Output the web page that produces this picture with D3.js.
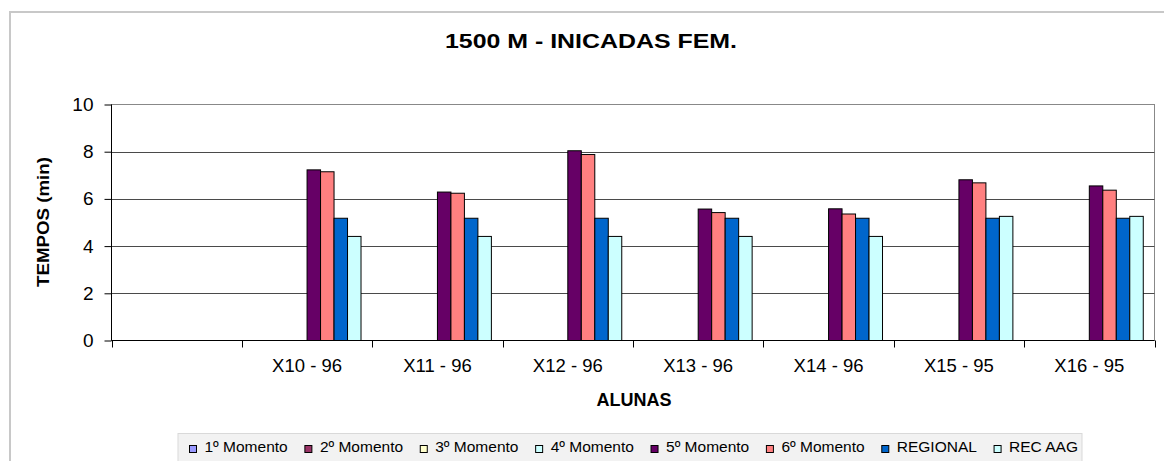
<!DOCTYPE html>
<html><head><meta charset="utf-8">
<script src="https://cdn.jsdelivr.net/npm/d3@7"></script>
<style>body{margin:0;background:#fff}svg{display:block}text{font-family:"Liberation Sans",Arial,sans-serif}</style>
</head><body>
<svg id="c" width="1164" height="461"></svg>
<script>
const categories = ["", "X10 - 96", "X11 - 96", "X12 - 96", "X13 - 96", "X14 - 96", "X15 - 95", "X16 - 95"];
const seriesNames = ["1º Momento","2º Momento","3º Momento","4º Momento","5º Momento","6º Momento","REGIONAL","REC AAG"];
const seriesColors = ["#9999FF","#993366","#FFFFCC","#CCFFFF","#660066","#FF8080","#0066CC","#CCFFFF"];
const m1 = [null,null,null,null,null,null,null,null];
const m2 = [null,null,null,null,null,null,null,null];
const m3 = [null,null,null,null,null,null,null,null];
const m4 = [null,null,null,null,null,null,null,null];
const m5 = [null, 7.23, 6.29, 8.04, 5.57, 5.58, 6.81, 6.55];
const m6 = [null, 7.15, 6.24, 7.88, 5.42, 5.36, 6.68, 6.37];
const regional = [null, 5.18, 5.18, 5.18, 5.18, 5.18, 5.18, 5.18];
const recAAG = [null, 4.41, 4.41, 4.41, 4.41, 4.41, 5.26, 5.26];
const yTicks = [0,2,4,6,8,10];
const title = "1500 M - INICADAS FEM.";
const yTitle = "TEMPOS (min)";
const xTitle = "ALUNAS";

const seriesValues = [m1,m2,m3,m4,m5,m6,regional,recAAG];
const svg = d3.select("#c");
const F = '"Liberation Sans",Arial,sans-serif';

// outer chart border
svg.append("rect").attr("x",10).attr("y",12).attr("width",1170).attr("height",470)
  .attr("fill","#fff").attr("stroke","#c8c8c8").attr("stroke-width",2);

const L = 111.5, R = 1154.5, T = 104.5, B = 340.5;
const x = d3.scaleBand().domain(categories.map((d,i)=>i)).range([L,R]).paddingInner(0).paddingOuter(0);
const gap = 0.0862;
const xs = d3.scaleBand().domain(seriesNames).range([x.bandwidth()*gap, x.bandwidth()*(1-gap)]);
const y = d3.scaleLinear().domain([0,10]).range([B,T]);

// plot area
svg.append("rect").attr("x",L).attr("y",T).attr("width",R-L).attr("height",B-T)
  .attr("fill","#fff").attr("stroke","#888").attr("stroke-width",1);

// gridlines
svg.append("g").selectAll("line").data(yTicks.filter(t=>t>0 && t<10)).join("line")
  .attr("x1",L).attr("x2",R).attr("y1",d=>Math.round(y(d))+0.5).attr("y2",d=>Math.round(y(d))+0.5)
  .attr("stroke","#4a4a4a").attr("stroke-width",1);

// bars
const gBars = svg.append("g");
seriesNames.forEach((s,si)=>{
  gBars.selectAll(null).data(seriesValues[si].map((v,i)=>({v,i})).filter(d=>d.v!=null)).join("rect")
    .attr("x",d=>x(d.i)+xs(s))
    .attr("y",d=>y(d.v))
    .attr("width",xs.bandwidth())
    .attr("height",d=>B-y(d.v))
    .attr("fill",seriesColors[si]).attr("stroke","#000").attr("stroke-width",1);
});

// y axis
const yAxis = d3.axisLeft(y).tickValues(yTicks).tickSize(7).tickPadding(11).tickFormat(d3.format("d"));
const ya = svg.append("g").attr("transform",`translate(${L},0)`).call(yAxis);
ya.select(".domain").attr("stroke","#000").attr("d",`M0,${T}V${B}`);
ya.selectAll(".tick line").attr("stroke","#000");
ya.selectAll(".tick text").attr("font-size",19).attr("fill","#000").attr("font-family",F);

// x axis
const boundaries = d3.range(categories.length+1);
const xg = svg.append("g");
xg.append("line").attr("x1",L).attr("x2",R).attr("y1",B).attr("y2",B).attr("stroke","#000");
xg.selectAll("line.t").data(boundaries).join("line").attr("class","t")
  .attr("x1",d=>Math.round(L + d*x.step())+0.5).attr("x2",d=>Math.round(L + d*x.step())+0.5)
  .attr("y1",B).attr("y2",B+7).attr("stroke","#000");
xg.selectAll("text").data(categories).join("text")
  .attr("x",(d,i)=>x(i)+x.bandwidth()/2).attr("y",372)
  .attr("text-anchor","middle").attr("font-size",18.5).attr("fill","#000").attr("font-family",F)
  .text(d=>d);

// titles
svg.append("text").attr("x",591).attr("y",48).attr("text-anchor","middle")
  .attr("font-size",21).attr("font-weight","bold").attr("font-family",F)
  .attr("textLength",292).attr("lengthAdjust","spacingAndGlyphs").text(title);
svg.append("text").attr("x",634).attr("y",406).attr("text-anchor","middle")
  .attr("font-size",18).attr("font-weight","bold").attr("font-family",F).text(xTitle);
svg.append("text").attr("transform","translate(49,222) rotate(-90)").attr("text-anchor","middle")
  .attr("font-size",17).attr("font-weight","bold").attr("font-family",F)
  .attr("textLength",130).attr("lengthAdjust","spacingAndGlyphs").text(yTitle);

// legend
const lg = svg.append("g");
lg.append("rect").attr("x",178).attr("y",433.5).attr("width",904).attr("height",40)
  .attr("fill","#f2f2f2").attr("stroke","#d9d9d9");
const fs = 15.5;
const items = lg.selectAll("g.it").data(seriesNames).join("g").attr("class","it");
items.append("rect").attr("width",7).attr("height",7).attr("y",445.5)
  .attr("fill",(d,i)=>seriesColors[i]).attr("stroke","#000").attr("stroke-width",1);
items.append("text").attr("y",452).attr("font-size",fs).attr("font-family",F).attr("fill","#000").text(d=>d);
const widths = [];
items.select("text").each(function(){widths.push(this.getComputedTextLength());});
const start = 189.5, end = 1078, mg = 8;
const totalText = d3.sum(widths) + seriesNames.length*(7+mg);
const between = (end - start - totalText)/(seriesNames.length-1);
let cx = start;
items.each(function(d,i){
  const g = d3.select(this);
  g.select("rect").attr("x",cx);
  g.select("text").attr("x",cx+7+mg);
  cx += 7+mg+widths[i]+between;
});
</script>
</body></html>
